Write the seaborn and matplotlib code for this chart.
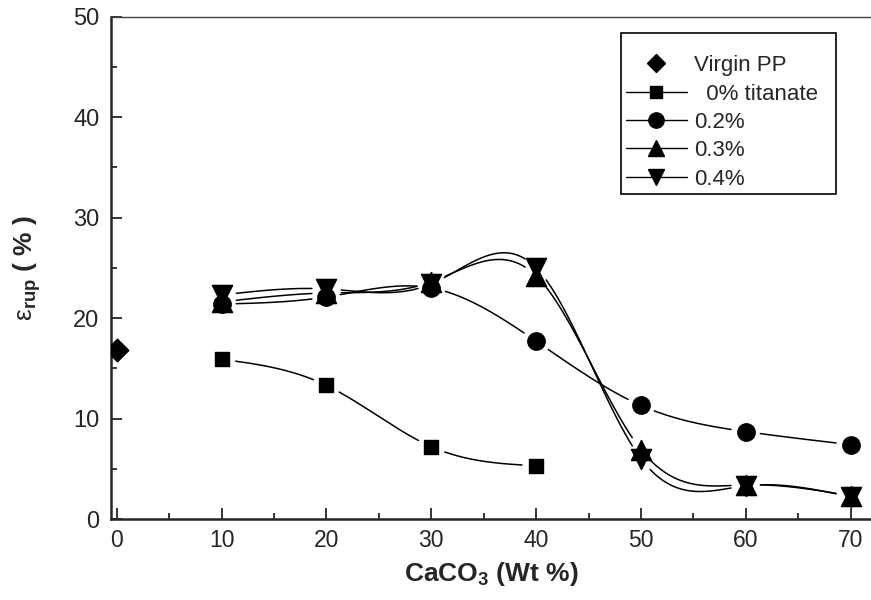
import numpy as np
import pandas as pd
import matplotlib
matplotlib.use("Agg")
import matplotlib.pyplot as plt
import seaborn as sns
from matplotlib.lines import Line2D
from matplotlib.ticker import MultipleLocator

# valores (deformacao na ruptura, %)
caco3 = [10, 20, 30, 40, 50, 60, 70]
caco3_0 = [10, 20, 30, 40]
virgin_x = [0]
virgin_y = [16.8]
tit_0 = [15.9, 13.3, 7.2, 5.3]
tit_02 = [21.4, 22.1, 23.0, 17.7, 11.3, 8.7, 7.4]
tit_03 = [21.6, 22.5, 23.6, 24.2, 6.9, 3.4, 2.3]
tit_04 = [22.3, 22.9, 23.4, 25.0, 6.0, 3.3, 2.2]

labels = ["Virgin PP", "  0% titanate", "0.2%", "0.3%", "0.4%"]

sns.set_style("ticks")
plt.rcParams["font.family"] = ["Liberation Sans", "DejaVu Sans"]
plt.rcParams["mathtext.fontset"] = "custom"
plt.rcParams["mathtext.rm"] = "Liberation Sans"
plt.rcParams["mathtext.bf"] = "Liberation Sans:bold"
plt.rcParams["mathtext.it"] = "Liberation Sans:italic"


def spline_curve(x, y, n=600):
    # spline cubica natural (como a ligacao "spline" do Origin)
    x = np.asarray(x, float)
    y = np.asarray(y, float)
    k = len(x)
    h = np.diff(x)
    A = np.zeros((k, k))
    b = np.zeros(k)
    A[0, 0] = A[-1, -1] = 1
    for i in range(1, k - 1):
        A[i, i - 1] = h[i - 1]
        A[i, i] = 2 * (h[i - 1] + h[i])
        A[i, i + 1] = h[i]
        b[i] = 3 * ((y[i + 1] - y[i]) / h[i] - (y[i] - y[i - 1]) / h[i - 1])
    c = np.linalg.solve(A, b)
    xs = np.linspace(x[0], x[-1], n)
    idx = np.clip(np.searchsorted(x, xs) - 1, 0, k - 2)
    dx = xs - x[idx]
    bb = (y[idx + 1] - y[idx]) / h[idx] - h[idx] * (2 * c[idx] + c[idx + 1]) / 3
    d = (c[idx + 1] - c[idx]) / (3 * h[idx])
    ys = y[idx] + bb * dx + c[idx] * dx ** 2 + d * dx ** 3
    return xs, ys


def gapped(x, y, ax, r=14):
    # corta a linha perto de cada marcador
    xs, ys = spline_curve(x, y)
    pts = ax.transData.transform(np.column_stack([xs, ys]))
    mk = ax.transData.transform(np.column_stack([x, y]))
    dist = np.hypot(pts[:, None, 0] - mk[None, :, 0], pts[:, None, 1] - mk[None, :, 1]).min(axis=1)
    keep = dist > r
    seg = np.cumsum(~keep)
    df = pd.DataFrame({"x": xs, "y": ys, "seg": seg})
    return df[keep]


fig = plt.figure(figsize=(8.71, 6), dpi=100)
ax = fig.add_axes([110.7 / 871, 1 - 519 / 600, 1 - 110.7 / 871, (519 - 16.7) / 600])
xlim = (-0.572, 71.93)
ylim = (0, 50)
ax.set_xlim(xlim)
ax.set_ylim(ylim)

series = [
    (caco3_0, tit_0, "s", 10.5),
    (caco3, tit_02, "o", 12.5),
    (caco3, tit_03, "^", 14.5),
    (caco3, tit_04, "v", 14.5),
]

for xv, yv, mk, ms in series:
    df = gapped(xv, yv, ax)
    sns.lineplot(data=df, x="x", y="y", units="seg", estimator=None, sort=False,
                 color="black", linewidth=1.1, ax=ax, legend=False)

sns.scatterplot(x=virgin_x, y=virgin_y, marker="D", s=11.5 ** 2, color="black",
                edgecolor="black", linewidth=1, ax=ax, legend=False, zorder=3, clip_on=True)
for xv, yv, mk, ms in series:
    sns.scatterplot(x=xv, y=yv, marker=mk, s=ms ** 2, color="black",
                    edgecolor="black", linewidth=1, ax=ax, legend=False, zorder=3)

ax.set_xlim(xlim)
ax.set_ylim(ylim)

ax.xaxis.set_major_locator(MultipleLocator(10))
ax.xaxis.set_minor_locator(MultipleLocator(5))
ax.yaxis.set_major_locator(MultipleLocator(10))
ax.yaxis.set_minor_locator(MultipleLocator(5))
ax.tick_params(which="both", direction="in", top=False, right=False, width=1.3)
ax.tick_params(which="major", length=8)
ax.tick_params(which="minor", length=4.5)
ax.tick_params(axis="x", labelsize=16.5, pad=7)
ax.tick_params(axis="y", labelsize=17, pad=8)

ax.spines["right"].set_visible(False)
ax.spines["left"].set_linewidth(1.8)
ax.spines["bottom"].set_linewidth(1.8)
ax.spines["top"].set_linewidth(1.0)
ax.spines["top"].set_color("#444444")

ax.set_xlabel(r"CaCO$_\mathbf{3}$ (Wt %)", fontsize=19, fontweight="bold", labelpad=6)
ax.set_ylabel(r"$\mathrm{\varepsilon}_\mathbf{rup}$ ( % )", fontsize=19, fontweight="bold", labelpad=22)

handles = [
    Line2D([], [], color="black", marker="D", linestyle="none", markersize=9),
    Line2D([], [], color="black", marker="s", linewidth=1, markersize=9),
    Line2D([], [], color="black", marker="o", linewidth=1, markersize=11),
    Line2D([], [], color="black", marker="^", linewidth=1, markersize=12),
    Line2D([], [], color="black", marker="v", linewidth=1, markersize=12),
]
leg = ax.legend(handles, labels, loc="upper left",
                bbox_to_anchor=(621 / 871, 0, (836 - 621) / 871, 1 - 33 / 600),
                bbox_transform=fig.transFigure, mode="expand", borderaxespad=0,
                frameon=True, fancybox=False, edgecolor="black", framealpha=1,
                fontsize=16, handlelength=2.75, handletextpad=0.3, labelspacing=0.33,
                borderpad=0.22, title=" ", title_fontsize=8)
leg.get_frame().set_linewidth(1.2)

fig.savefig("out.png", dpi=100)
